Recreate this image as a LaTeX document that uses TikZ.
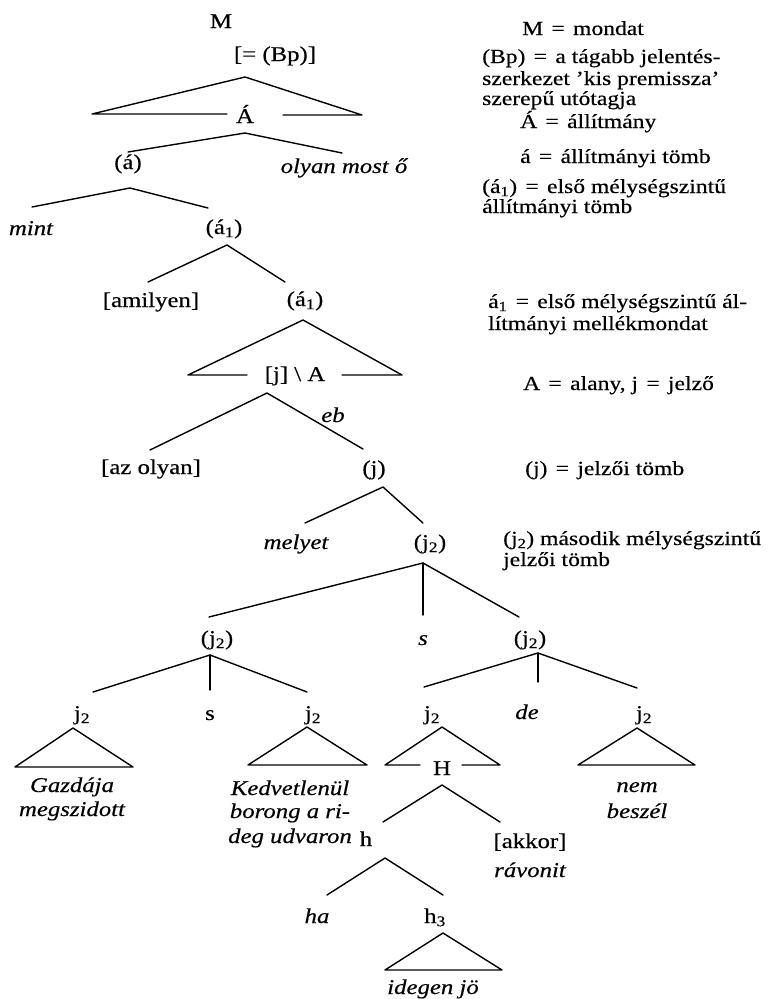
\documentclass[tikz,border=0pt]{standalone}
\usepackage{fontspec}
\setmainfont{Liberation Serif}[FakeStretch=1.18, FakeBold=0.4]
\newcommand\treesize{\fontsize{21}{21}\selectfont}
\newcommand\legsize{\fontsize{20}{20}\selectfont}
% equals sign with the wider spacing used in the key
\newcommand\keyeq{\hspace{0.12em} = \hspace{0.12em}}
\tikzset{
  lbl/.style={inner sep=0pt, anchor=base, font=\treesize},
  itl/.style={inner sep=0pt, anchor=base, font=\treesize\itshape},
  leg/.style={inner sep=0pt, anchor=base west, font=\legsize},
  edge/.style={line width=1.4pt, line cap=round, line join=round},
}
\begin{document}
\begin{tikzpicture}[x=1pt, y=-1pt]
\useasboundingbox (0,0) rectangle (771,999);

% ---------- tree labels ----------
\node[lbl] (M) at (221,28) {M};
\node[lbl] (Bp) at (275,61) {[= (Bp)]};
\node[lbl] (A) at (245,123) {Á};
\node[lbl] (a) at (128,169) {(á)};
\node[itl] (olyan) at (344,173) {olyan most ő};
\node[itl] (mint) at (31,235) {mint};
\node[lbl] (a1) at (224,234) {(á\textsubscript{1})};
\node[lbl] (amilyen) at (151,307) {[amilyen]};
\node[lbl] (a1b) at (305,306) {(á\textsubscript{1})};
\node[lbl] (jA) at (295,381) {[j] \textbackslash\ A};
\node[itl] (eb) at (333,422) {eb};
\node[lbl] (azolyan) at (151,474) {[az olyan]};
\node[lbl] (j) at (374,475) {(j)};
\node[itl] (melyet) at (296,549) {melyet};
\node[lbl] (jj) at (430,549) {(j\textsubscript{2})};
\node[lbl] (jjl) at (217,645) {(j\textsubscript{2})};
\node[itl] (s1) at (423,645) {s};
\node[lbl] (jjr) at (530,645) {(j\textsubscript{2})};
\node[lbl] (g1) at (82,720) {j\textsubscript{2}};
\node[lbl] (s2) at (210,720) {s};
\node[lbl] (g2) at (313,720) {j\textsubscript{2}};
\node[lbl] (g3) at (432,720) {j\textsubscript{2}};
\node[itl] (de) at (527,719) {de};
\node[lbl] (g4) at (644,720) {j\textsubscript{2}};
\node[itl] (gazd1) at (72,792) {Gazdája};
\node[itl] (gazd2) at (72,816) {megszidott};
\node[itl] (kedv1) at (290,795) {Kedvetlenül};
\node[itl] (kedv2) at (290,818) {borong a ri-};
\node[itl] (kedv3) at (290,843) {deg udvaron};
\node[itl] (nem1) at (637,792) {nem};
\node[itl] (nem2) at (637,818) {beszél};
\node[lbl] (H) at (442,775) {H};
\node[lbl] (h) at (366,846) {h};
\node[lbl] (akkor) at (530,848) {[akkor]};
\node[itl] (ravonit) at (530,877) {rávonit};
\node[itl] (ha) at (317,923) {ha};
\node[lbl] (h3) at (435,923) {h\textsubscript{3}};
\node[itl] (idegen) at (433,994) {idegen jö};

% ---------- triangles ----------
\coordinate (T1t) at (245,77);  \coordinate (T1l) at (92,114);  \coordinate (T1r) at (362,115);
\coordinate (T1a) at (227,114); \coordinate (T1b) at (283,115);
\draw[edge] (T1a) -- (T1l) -- (T1t) -- (T1r) -- (T1b);

\coordinate (T2t) at (303,320); \coordinate (T2l) at (188,375); \coordinate (T2r) at (402,375);
\coordinate (T2a) at (247,375); \coordinate (T2b) at (342,375);
\draw[edge] (T2a) -- (T2l) -- (T2t) -- (T2r) -- (T2b);

\coordinate (T3t) at (73,728);  \coordinate (T3l) at (15,767);  \coordinate (T3r) at (133,767);
\draw[edge] (T3t) -- (T3l) -- (T3r) -- cycle;

\coordinate (T4t) at (307,727); \coordinate (T4l) at (248,765); \coordinate (T4r) at (367,765);
\draw[edge] (T4t) -- (T4l) -- (T4r) -- cycle;

\coordinate (T5t) at (442,727); \coordinate (T5l) at (385,765); \coordinate (T5r) at (500,765);
\coordinate (T5a) at (420,765); \coordinate (T5b) at (462,765);
\draw[edge] (T5a) -- (T5l) -- (T5t) -- (T5r) -- (T5b);

\coordinate (T6t) at (637,728); \coordinate (T6l) at (578,765); \coordinate (T6r) at (695,765);
\draw[edge] (T6t) -- (T6l) -- (T6r) -- cycle;

\coordinate (T7t) at (443,933); \coordinate (T7l) at (385,970); \coordinate (T7r) at (502,970);
\draw[edge] (T7t) -- (T7l) -- (T7r) -- cycle;

% ---------- branches ----------
\coordinate (A-d) at (245,133); \coordinate (a-u) at (128,152); \coordinate (olyan-u) at (342,153);
\draw[edge] (a-u) -- (A-d) -- (olyan-u);

\coordinate (a-d) at (130,188); \coordinate (mint-u) at (32,207); \coordinate (a1-u) at (208,208);
\draw[edge] (mint-u) -- (a-d) -- (a1-u);

\coordinate (a1-d) at (227,245); \coordinate (amilyen-u) at (148,282); \coordinate (a1b-u) at (285,282);
\draw[edge] (amilyen-u) -- (a1-d) -- (a1b-u);

\coordinate (jA-d) at (267,393); \coordinate (azolyan-u) at (150,450); \coordinate (j-u) at (363,449);
\draw[edge] (azolyan-u) -- (jA-d) -- (j-u);

\coordinate (j-d) at (383,487); \coordinate (melyet-u) at (305,523); \coordinate (jj-u) at (423,523);
\draw[edge] (melyet-u) -- (j-d) -- (jj-u);

\coordinate (jj-d) at (423,563); \coordinate (jjl-u) at (209,617); \coordinate (s1-u) at (423,615); \coordinate (jjr-u) at (519,617);
\draw[edge] (jjl-u) -- (jj-d) -- (jjr-u);
\draw[edge] (jj-d) -- (s1-u);

\coordinate (jjl-d) at (210,655); \coordinate (g1-u) at (93,692); \coordinate (s2-u) at (210,690); \coordinate (g2-u) at (307,692);
\draw[edge] (g1-u) -- (jjl-d) -- (g2-u);
\draw[edge] (jjl-d) -- (s2-u);

\coordinate (jjr-d) at (538,653); \coordinate (g3-u) at (424,687); \coordinate (de-u) at (538,682); \coordinate (g4-u) at (637,688);
\draw[edge] (g3-u) -- (jjr-d) -- (g4-u);
\draw[edge] (jjr-d) -- (de-u);

\coordinate (H-d) at (442,785); \coordinate (h-u) at (383,822); \coordinate (akkor-u) at (500,822);
\draw[edge] (h-u) -- (H-d) -- (akkor-u);

\coordinate (h-d) at (385,858); \coordinate (ha-u) at (327,895); \coordinate (h3-u) at (443,895);
\draw[edge] (ha-u) -- (h-d) -- (h3-u);

% ---------- key ----------
\node[leg] (k1) at (522,35) {M\keyeq mondat};
\node[leg] (k2a) at (482,63) {(Bp)\keyeq a tágabb jelentés-};
\node[leg] (k2b) at (482,85) {szerkezet ’kis premissza’};
\node[leg] (k2c) at (482,105) {szerepű utótagja};
\node[leg] (k3) at (520,128) {Á\keyeq állítmány};
\node[leg] (k4) at (520,163) {á\keyeq állítmányi tömb};
\node[leg] (k5a) at (482,193) {(á\textsubscript{1})\keyeq első mélységszintű};
\node[leg] (k5b) at (482,213) {állítmányi tömb};
\node[leg] (k6a) at (488,308) {á\textsubscript{1}\keyeq első mélységszintű ál-};
\node[leg] (k6b) at (488,330) {lítmányi mellékmondat};
\node[leg] (k7) at (523,390) {A\keyeq alany, j\keyeq jelző};
\node[leg] (k8) at (525,475) {(j)\keyeq jelzői tömb};
\node[leg] (k9a) at (503,545) {(j\textsubscript{2}) második mélységszintű};
\node[leg] (k9b) at (503,566) {jelzői tömb};
\end{tikzpicture}
\end{document}
